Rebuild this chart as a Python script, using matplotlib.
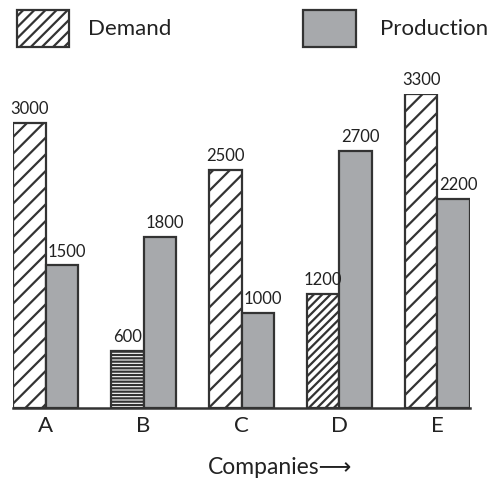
import numpy as np
import matplotlib.pyplot as plt
from matplotlib.patches import Rectangle

companies = ['A', 'B', 'C', 'D', 'E']
demand = [3000, 600, 2500, 1200, 3300]
production = [1500, 1800, 1000, 2700, 2200]
demand_hatch = ['//', '-----', '//', '////', '//']

plt.rcParams['font.family'] = ['Lato', 'DejaVu Sans']
plt.rcParams['hatch.linewidth'] = 1.6

edge = '#333333'
grey = '#a7a9ac'
txt = '#222222'
w = 0.3325
x = np.arange(len(companies))

fig = plt.figure(figsize=(4.9, 4.82), dpi=100)
ax = fig.add_axes([13/490, 1 - 408/482, 457/490, 314/482])

for i in range(len(companies)):
    ax.bar(x[i] - w/2, demand[i], w, color='white', edgecolor=edge,
           linewidth=1.6, hatch=demand_hatch[i])
    ax.bar(x[i] + w/2, production[i], w, color=grey, edgecolor=edge,
           linewidth=1.6)
    ax.text(x[i] - w/2, demand[i] + 60, str(demand[i]), ha='center',
            va='bottom', fontsize=12, color=txt, clip_on=False)
    ax.text(x[i] + w/2 + 0.05, production[i] + 60, str(production[i]),
            ha='center', va='bottom', fontsize=12, color=txt,
            clip_on=False)

ax.set_xlim(-w, 4 + w)
ax.set_ylim(0, 3300)
for s in ['top', 'right', 'left']:
    ax.spines[s].set_visible(False)
ax.spines['bottom'].set_color(edge)
ax.spines['bottom'].set_linewidth(1.8)
ax.set_yticks([])
ax.set_xticks(x)
ax.set_xticklabels(companies, fontsize=16, color=txt)
ax.tick_params(axis='x', length=0, pad=6)

fig.text(280/490, 1 - 468/482, 'Companies\u27f6', fontsize=16.5, color=txt,
         ha='center', va='center')

# legend drawn by hand so the boxes match the reference size
fig.add_artist(Rectangle((17/490, 1 - 47/482), 52/490, 37/482,
                         transform=fig.transFigure, facecolor='white',
                         edgecolor=edge, linewidth=1.6, hatch='///'))
fig.text(88/490, 1 - 29/482, 'Demand', fontsize=16, color=txt,
         ha='left', va='center')
fig.add_artist(Rectangle((303/490, 1 - 47/482), 53/490, 37/482,
                         transform=fig.transFigure, facecolor=grey,
                         edgecolor=edge, linewidth=1.6))
fig.text(380/490, 1 - 29/482, 'Production', fontsize=16, color=txt,
         ha='left', va='center')

fig.savefig('out.png', dpi=100)
